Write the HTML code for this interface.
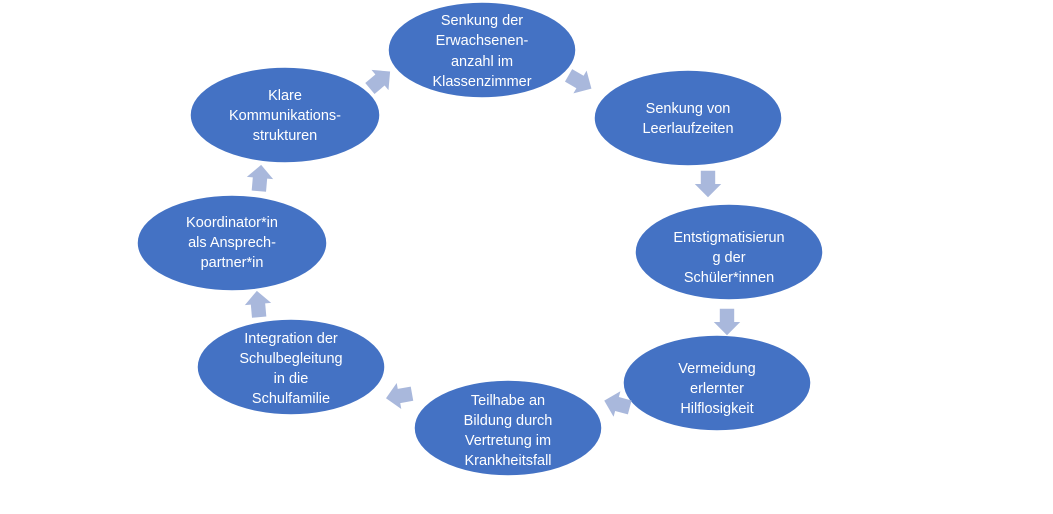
<!DOCTYPE html>
<html><head><meta charset="utf-8"><style>
html,body{margin:0;padding:0;background:#fff;}
svg{display:block;}
text{font-family:"Liberation Sans",sans-serif;font-size:14.5px;fill:#fff;text-anchor:middle;}
</style></head><body>
<svg width="1053" height="514" viewBox="0 0 1053 514">
<defs>
<polygon id="ar" points="-11,-6 0,-6 0,-11 11,0 0,11 0,6 -11,6" fill="#A9B8DC"/>
</defs>
<g fill="#4472C4" stroke="#fff" stroke-width="1.5">
<ellipse cx="482" cy="50" rx="94" ry="48"/>
<ellipse cx="688" cy="118" rx="94" ry="48"/>
<ellipse cx="729" cy="252" rx="94" ry="48"/>
<ellipse cx="717" cy="383" rx="94" ry="48"/>
<ellipse cx="508" cy="428" rx="94" ry="48"/>
<ellipse cx="291" cy="367" rx="94" ry="48"/>
<ellipse cx="232" cy="243" rx="95" ry="48"/>
<ellipse cx="285" cy="115" rx="95" ry="48"/>
</g>
<use href="#ar" transform="translate(380,80) rotate(-40) scale(1.2)"/>
<use href="#ar" transform="translate(580,82) rotate(30) scale(1.2)"/>
<use href="#ar" transform="translate(708,184) rotate(90) scale(1.2)"/>
<use href="#ar" transform="translate(727,322) rotate(90) scale(1.2)"/>
<use href="#ar" transform="translate(617,404) rotate(195) scale(1.2)"/>
<use href="#ar" transform="translate(399,396) rotate(170) scale(1.2)"/>
<use href="#ar" transform="translate(258,304) rotate(-95) scale(1.2)"/>
<use href="#ar" transform="translate(260,178) rotate(-85) scale(1.2)"/>
<text x="482" y="25">Senkung der</text>
<text x="482" y="45">Erwachsenen-</text>
<text x="482" y="66">anzahl im</text>
<text x="482" y="86">Klassenzimmer</text>
<text x="688" y="113">Senkung von</text>
<text x="688" y="133">Leerlaufzeiten</text>
<text x="729" y="242">Entstigmatisierun</text>
<text x="729" y="262">g der</text>
<text x="729" y="282">Schüler*innen</text>
<text x="717" y="373">Vermeidung</text>
<text x="717" y="393">erlernter</text>
<text x="717" y="413">Hilflosigkeit</text>
<text x="508" y="405">Teilhabe an</text>
<text x="508" y="425">Bildung durch</text>
<text x="508" y="445">Vertretung im</text>
<text x="508" y="465">Krankheitsfall</text>
<text x="291" y="343">Integration der</text>
<text x="291" y="363">Schulbegleitung</text>
<text x="291" y="383">in die</text>
<text x="291" y="403">Schulfamilie</text>
<text x="232" y="227">Koordinator*in</text>
<text x="232" y="247">als Ansprech-</text>
<text x="232" y="267">partner*in</text>
<text x="285" y="100">Klare</text>
<text x="285" y="120">Kommunikations-</text>
<text x="285" y="140">strukturen</text>
</svg>
</body></html>
